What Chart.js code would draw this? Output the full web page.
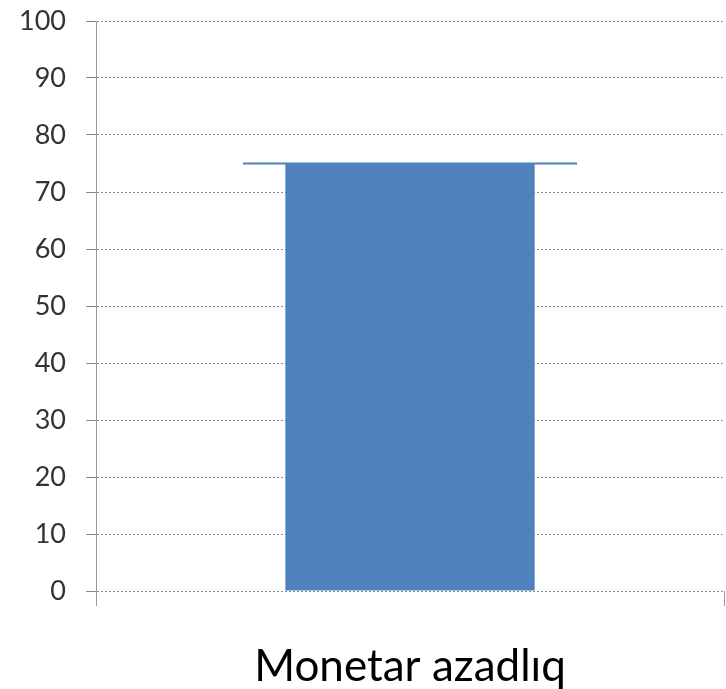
<!DOCTYPE html>
<html>
<head>
<meta charset="utf-8">
<script src="https://cdn.jsdelivr.net/npm/chart.js@4"></script>
<style>
  html, body { margin:0; padding:0; background:#fff; }
  #wrap { width:726px; height:689px; }
</style>
</head>
<body>
<div id="wrap"><canvas id="chart" width="726" height="689"></canvas></div>
<script>
// --- data ---
const categories = ['Monetar azadlıq'];
const barValues = [75];
const markerValues = [75];
const yTicks = { min: 0, max: 100, step: 10 };

const ctx = document.getElementById('chart').getContext('2d');
new Chart(ctx, {
  type: 'bar',
  data: {
    labels: categories,
    datasets: [
      { label: 'marker', data: markerValues.map(v => [v - 0.18, v + 0.18]), backgroundColor: '#4F81BD', borderWidth: 0, grouped: false, barPercentage: 0.532, categoryPercentage: 1, order: 2 },
      { label: 'value', data: barValues, backgroundColor: '#4F81BD', borderWidth: 0, grouped: false, barPercentage: 0.397, categoryPercentage: 1, order: 1 }
    ]
  },
  options: {
    responsive: false,
    animation: false,
    layout: { padding: { top: 21, right: 2, left: 0, bottom: 0 } },
    plugins: { legend: { display: false }, tooltip: { enabled: false } },
    scales: {
      x: {
        offset: true,
        grid: { offset: true, drawOnChartArea: false, drawTicks: true, tickLength: 15, color: '#999' },
        border: { display: false },
        ticks: { color: '#000', font: { family: 'Lato', size: 44 }, padding: 34 },
        afterFit: s => { s.height = 98; }
      },
      y: {
        min: yTicks.min, max: yTicks.max,
        grid: { color: '#8a8a8a', tickLength: 10 },
        border: { display: true, color: '#999', dash: [2, 2] },
        ticks: { stepSize: yTicks.step, color: '#333', font: { family: 'Lato', size: 27 }, padding: 20 },
        afterFit: s => { s.width = 96; s.paddingTop = 0; s.paddingBottom = 0; }
      }
    }
  }
});
</script>
</body>
</html>
